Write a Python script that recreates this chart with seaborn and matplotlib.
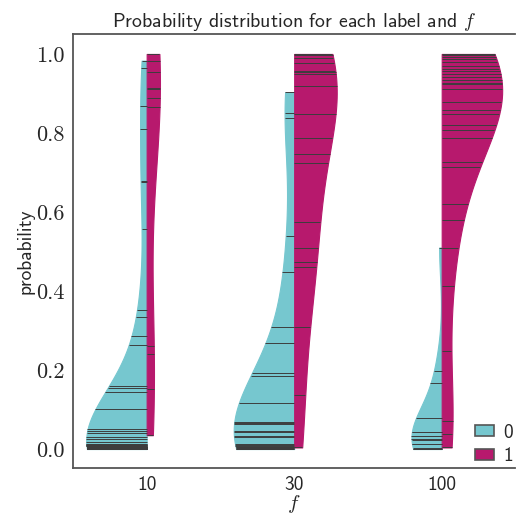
import numpy as np
import pandas as pd
import matplotlib
matplotlib.use("Agg")
import matplotlib.pyplot as plt
import seaborn as sns
from matplotlib.collections import PolyCollection

# ---- data ----
f_levels = ["10", "30", "100"]
labels = ["0", "1"]

f10_label0 = [0.983, 0.964, 0.868, 0.809, 0.678, 0.675, 0.558, 0.352, 0.333, 0.286,
              0.263, 0.159, 0.155, 0.145, 0.101, 0.050, 0.046, 0.040, 0.030, 0.025,
              0.018, 0.014, 0.012, 0.010, 0.010, 0.009, 0.008, 0.008, 0.007, 0.006,
              0.006, 0.005, 0.005, 0.004, 0.004, 0.004, 0.003, 0.003, 0.003, 0.002,
              0.002, 0.002, 0.002, 0.001, 0.001, 0.001, 0.001, 0.000, 0.000, 0.000]
f10_label1 = [1.0, 0.981, 0.954, 0.915, 0.912, 0.889, 0.866, 0.261, 0.240, 0.151, 0.035]
f30_label0 = [0.903, 0.851, 0.838, 0.538, 0.447, 0.308, 0.268, 0.192, 0.186, 0.116,
              0.069, 0.067, 0.063, 0.046, 0.044, 0.033, 0.031, 0.012, 0.010, 0.008,
              0.006, 0.004, 0.004, 0.002, 0.002, 0.001, 0.000]
f30_label1 = [1.0, 0.997, 0.990, 0.976, 0.958, 0.954, 0.949, 0.920, 0.847, 0.786,
              0.747, 0.725, 0.575, 0.510, 0.474, 0.462, 0.310, 0.137, 0.004]
f100_label0 = [0.51, 0.198, 0.166, 0.078, 0.044, 0.042, 0.034, 0.032, 0.025, 0.024,
               0.013, 0.012, 0.002, 0.001, 0.000]
f100_label1 = [1.0, 0.997, 0.992, 0.987, 0.980, 0.969, 0.963, 0.956, 0.948, 0.941,
               0.934, 0.927, 0.924, 0.911, 0.878, 0.857, 0.848, 0.821, 0.807, 0.787,
               0.727, 0.713, 0.619, 0.580, 0.508, 0.413, 0.248, 0.071, 0.038, 0.004]

series = {
    ("10", "0"): f10_label0, ("10", "1"): f10_label1,
    ("30", "0"): f30_label0, ("30", "1"): f30_label1,
    ("100", "0"): f100_label0, ("100", "1"): f100_label1,
}
rows = []
for (f, lab), vals in series.items():
    for v in vals:
        rows.append({"f": f, "label": lab, "probability": v})
df = pd.DataFrame(rows)

teal = "#76c7cf"
magenta = "#b7196d"

sns.set_theme(style="white")
plt.rcParams["font.family"] = ["cmss10", "DejaVu Sans"]
plt.rcParams["mathtext.fontset"] = "cm"
plt.rcParams["axes.unicode_minus"] = False

fig = plt.figure(figsize=(5.17, 5.18), dpi=100)
ax = fig.add_axes([0.141, 0.0965, 0.856, 0.8375])

# width scaled by count within each f category (one call per category)
for i, f in enumerate(f_levels):
    sub = df[df["f"] == f]
    sns.violinplot(data=sub, x="f", y="probability", hue="label",
                   order=f_levels, hue_order=labels,
                   palette={"0": teal, "1": magenta},
                   split=True, inner="stick", cut=0,
                   density_norm="count", common_norm=True,
                   width=0.82, linecolor="#3d3d3d", linewidth=1.4,
                   saturation=1, legend=(i == 0), ax=ax)

for coll in ax.collections:
    if isinstance(coll, PolyCollection):
        fc = coll.get_facecolor()
        coll.set_edgecolor(fc)
        coll.set_linewidth(0.8)

ax.set_ylim(-0.048, 1.05)
ax.set_xlim(-0.5, 2.5)
ax.set_title("Probability distribution for each label and $f$", fontsize=14.3, pad=5)
ax.set_xlabel("$f$", fontsize=15, labelpad=-1)
ax.set_ylabel("probability", fontsize=14, labelpad=1)
ax.set_yticks([0.0, 0.2, 0.4, 0.6, 0.8, 1.0])
ax.set_yticklabels(["0.0", "0.2", "0.4", "0.6", "0.8", "1.0"], fontfamily="cmr10", fontsize=16)
ax.tick_params(axis="both", length=0)
ax.tick_params(axis="x", labelsize=14, pad=6)
ax.tick_params(axis="y", pad=6)

for side in ["left", "top", "bottom"]:
    ax.spines[side].set_color("#555555")
    ax.spines[side].set_linewidth(1.3)
ax.spines["right"].set_visible(False)

leg = ax.legend(loc="lower right", bbox_to_anchor=(1.012, -0.012), frameon=False, fontsize=14,
                handlelength=1.0, handleheight=0.45, borderaxespad=0.0,
                labelspacing=0.3, handletextpad=0.45)
for h in leg.legend_handles:
    h.set_edgecolor("#555555")
    h.set_linewidth(1.2)

fig.savefig("out.png", dpi=100)
